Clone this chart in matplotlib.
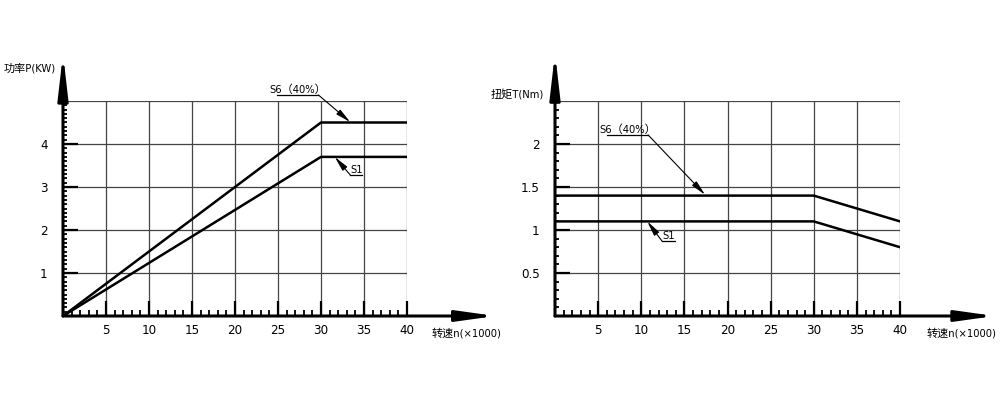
import numpy as np
import matplotlib.pyplot as plt
from matplotlib.ticker import MultipleLocator

plt.rcParams['font.family'] = ['DejaVu Sans', 'Noto Sans CJK SC']
plt.rcParams['font.stretch'] = 'condensed'

# ==========================================
# DATA
# ==========================================
speed = [0, 30, 40]                 # n (x1000 rpm)
power_s6 = [0, 4.5, 4.5]            # kW
power_s1 = [0, 3.7, 3.7]
torque_speed = [0, 30, 40]
torque_s6 = [1.4, 1.4, 1.1]         # Nm
torque_s1 = [1.1, 1.1, 0.8]

x_ticks = [5, 10, 15, 20, 25, 30, 35, 40]
p_ticks = [1, 2, 3, 4]
t_ticks = [0.5, 1, 1.5, 2]
t_tick_labels = ['0.5', '1', '1.5', '2']

FS = 9.5
LFS = 8
INK = 'black'
GRID = '#444444'

fig = plt.figure(figsize=(10, 4), dpi=100)


def setup(ax, ymax, ystep, yticks, ylabels, xarrow, yarrow, ylabel_txt, ylabel_pos, xlabel_pos):
    ax.set_xlim(0, 40)
    ax.set_ylim(0, ymax)
    for s in ['top', 'right', 'left', 'bottom']:
        ax.spines[s].set_visible(False)
    # grid
    for xv in x_ticks:
        ax.plot([xv, xv], [0, ymax], color=GRID, lw=0.9, zorder=1)
    y = ystep
    while y <= ymax + 1e-9:
        ax.plot([0, 40], [y, y], color=GRID, lw=0.9, zorder=1)
        y += ystep
    # ticks
    ax.set_xticks(x_ticks)
    ax.set_xticklabels([str(v) for v in x_ticks], fontsize=FS)
    ax.set_yticks(yticks)
    ax.set_yticklabels(ylabels, fontsize=FS)
    ax.xaxis.set_minor_locator(MultipleLocator(1))
    ax.yaxis.set_minor_locator(MultipleLocator(ystep / 10 if ystep == 1 else 0.1))
    ax.tick_params(which='major', direction='in', length=10.5, width=1.6, color=INK, pad=6)
    ax.tick_params(axis='y', which='major', pad=11)
    ax.tick_params(which='minor', direction='in', length=4.5, width=1.3, color=INK)
    ax.tick_params(axis='y', which='minor', length=3.2)
    # axis arrows
    ax.annotate('', xy=(xarrow, 0), xytext=(0, 0), xycoords='data',
                arrowprops=dict(arrowstyle='-|>,head_length=2.3,head_width=0.32',
                                mutation_scale=10, lw=2.2, color=INK, shrinkA=0, shrinkB=0),
                annotation_clip=False)
    ax.annotate('', xy=(0, yarrow), xytext=(0, 0), xycoords='data',
                arrowprops=dict(arrowstyle='-|>,head_length=2.6,head_width=0.3',
                                mutation_scale=10, lw=2.2, color=INK, shrinkA=0, shrinkB=0),
                annotation_clip=False)
    fig.text(ylabel_pos[0], ylabel_pos[1], ylabel_txt, fontsize=LFS, ha='right', va='center')
    fig.text(xlabel_pos[0], xlabel_pos[1], '转速n(×1000)', fontsize=LFS, ha='right', va='center')


def tag(ax, text, x0, x1, yline):
    xm = (x0 + x1) / 2
    ax.plot([x0, x1], [yline, yline], color=INK, lw=0.9, clip_on=False)
    ax.text(xm, yline, text, fontsize=LFS, ha='center', va='bottom', clip_on=False)


def leader(ax, start, tip):
    ax.annotate('', xy=tip, xytext=start,
                arrowprops=dict(arrowstyle='-|>,head_length=0.9,head_width=0.18',
                                mutation_scale=10, lw=0.8, color=INK, shrinkA=0, shrinkB=0),
                annotation_clip=False)


# ==========================================
# POWER CHART
# ==========================================
ax1 = fig.add_axes([0.063, 0.21, 0.344, 0.5375])
setup(ax1, 5, 1, p_ticks, [str(v) for v in p_ticks], 50.3, 6.1,
      '功率P(KW)', (0.056, 0.83), (0.501, 0.167))
ax1.plot(speed, power_s6, color=INK, lw=1.8, zorder=3)
ax1.plot(speed, power_s1, color=INK, lw=1.8, zorder=3)
tag(ax1, 'S6（40%）', 24.9, 29.7, 5.14)
leader(ax1, (29.7, 5.14), (33.4, 4.51))
tag(ax1, 'S1', 33.4, 34.8, 3.28)
leader(ax1, (33.4, 3.28), (31.6, 3.70))

# ==========================================
# TORQUE CHART
# ==========================================
ax2 = fig.add_axes([0.555, 0.21, 0.345, 0.5375])
setup(ax2, 2.5, 0.5, t_ticks, t_tick_labels, 51.0, 3.06,
      '扭矩T(Nm)', (0.544, 0.762), (0.996, 0.167))
ax2.plot(torque_speed, torque_s6, color=INK, lw=1.8, zorder=3)
ax2.plot(torque_speed, torque_s1, color=INK, lw=1.8, zorder=3)
tag(ax2, 'S6（40%）', 6.0, 10.8, 2.105)
leader(ax2, (10.8, 2.105), (17.4, 1.41))
tag(ax2, 'S1', 12.4, 13.9, 0.872)
leader(ax2, (12.4, 0.872), (10.7, 1.1))

fig.savefig('out.png', dpi=100)
